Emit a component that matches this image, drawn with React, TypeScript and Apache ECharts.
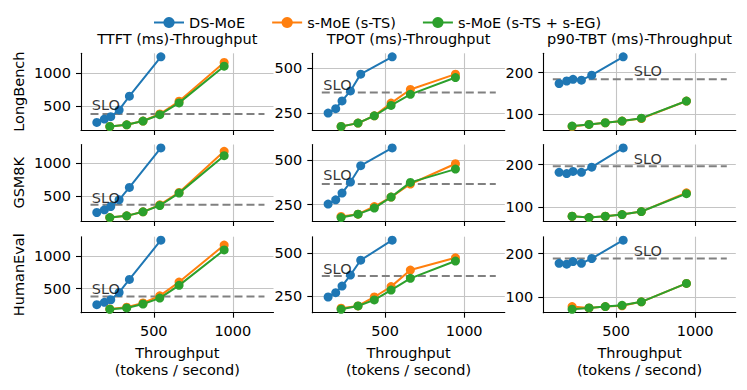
import React, { useEffect, useRef } from "react";
import * as echarts from "echarts";

// ---------- data ----------
const rowNames = ["LongBench", "GSM8K", "HumanEval"];
const colTitles = ["TTFT (ms)-Throughput", "TPOT (ms)-Throughput", "p90-TBT (ms)-Throughput"];
const seriesNames = ["DS-MoE", "s-MoE (s-TS)", "s-MoE (s-TS + s-EG)"];
const colors = ["#1f77b4", "#ff7f0e", "#2ca02c"];

// throughput (tokens / second)
const thrDS = [140, 188, 228, 281, 346, 545];
const thrS = [222, 329, 432, 538, 660, 945];

// TTFT (ms)
const ttftLongBenchDS = [258, 309, 344, 445, 652, 1242];
const ttftLongBenchTS = [197, 223, 279, 385, 576, 1158];
const ttftLongBenchEG = [197, 223, 279, 374, 551, 1101];
const ttftGSM8KDS = [260, 300, 350, 450, 635, 1225];
const ttftGSM8KTS = [185, 210, 270, 375, 560, 1175];
const ttftGSM8KEG = [185, 210, 270, 365, 550, 1110];
const ttftHumanEvalDS = [255, 291, 330, 441, 640, 1240];
const ttftHumanEvalTS = [190, 216, 281, 390, 600, 1165];
const ttftHumanEvalEG = [185, 205, 265, 355, 550, 1090];

// TPOT (ms)
const tpotLongBenchDS = [250, 275, 318, 374, 468, 565];
const tpotLongBenchTS = [175, 194, 235, 306, 382, 468];
const tpotLongBenchEG = [175, 194, 235, 293, 355, 449];
const tpotGSM8KDS = [254, 278, 316, 378, 470, 570];
const tpotGSM8KTS = [184, 197, 240, 293, 367, 481];
const tpotGSM8KEG = [178, 197, 231, 293, 376, 451];
const tpotHumanEvalDS = [244, 269, 307, 371, 457, 573];
const tpotHumanEvalTS = [179, 192, 244, 304, 400, 471];
const tpotHumanEvalEG = [173, 192, 227, 284, 352, 452];

// p90-TBT (ms)
const tbtLongBenchDS = [174, 180, 184, 182, 194, 238];
const tbtLongBenchTS = [71, 76, 80, 84, 90, 132];
const tbtLongBenchEG = [72, 76, 80, 84, 91, 132];
const tbtGSM8KDS = [182, 179, 184, 182, 194, 239];
const tbtGSM8KTS = [79, 76, 79, 83, 90, 134];
const tbtGSM8KEG = [79, 76, 79, 83, 90, 132];
const tbtHumanEvalDS = [178, 176, 182, 178, 189, 231];
const tbtHumanEvalTS = [79, 76, 79, 81, 90, 132];
const tbtHumanEvalEG = [73, 76, 79, 82, 90, 132];

// SLO levels per row
const sloTTFT = [385, 375, 381];
const sloTPOT = [365, 367, 365];
const sloTBT = [184, 196, 189];
const sloSpan = [100, 1200];
// SLO label anchor (x per column, y per row) in data units
const sloLabelX = [108, 110, 612];
const sloLabelTTFT = [515, 475, 490];
const sloLabelTPOT = [408, 415, 408];
const sloLabelTBT = [204, 213, 206];

const xTicks = [500, 1000];
const yTicksTTFT = [500, 1000];
const yTicksTPOT = [250, 500];
const yTicksTBT = [100, 200];
const xRange = [40, 1257];

// ---------- layout ----------
const FONT = "DejaVu Sans";
const FS = 14.5;
const colLeft = [81, 312.3, 543.3];
const plotW = 192.5;
const rowTop = [53.3, 144.5, 236.7];
const plotH = [76.7, 76.5, 76];

const panelData = [
  [
    [ttftLongBenchDS, ttftLongBenchTS, ttftLongBenchEG],
    [tpotLongBenchDS, tpotLongBenchTS, tpotLongBenchEG],
    [tbtLongBenchDS, tbtLongBenchTS, tbtLongBenchEG],
  ],
  [
    [ttftGSM8KDS, ttftGSM8KTS, ttftGSM8KEG],
    [tpotGSM8KDS, tpotGSM8KTS, tpotGSM8KEG],
    [tbtGSM8KDS, tbtGSM8KTS, tbtGSM8KEG],
  ],
  [
    [ttftHumanEvalDS, ttftHumanEvalTS, ttftHumanEvalEG],
    [tpotHumanEvalDS, tpotHumanEvalTS, tpotHumanEvalEG],
    [tbtHumanEvalDS, tbtHumanEvalTS, tbtHumanEvalEG],
  ],
];
const sloByCol = [sloTTFT, sloTPOT, sloTBT];
const sloLabelByCol = [sloLabelTTFT, sloLabelTPOT, sloLabelTBT];
const yTicksByCol = [yTicksTTFT, yTicksTPOT, yTicksTBT];

function buildOption() {
  const grid: any[] = [];
  const xAxis: any[] = [];
  const yAxis: any[] = [];
  const series: any[] = [];
  const graphic: any[] = [];

  for (let r = 0; r < 3; r++) {
    for (let c = 0; c < 3; c++) {
      const gi = r * 3 + c;
      const [ds, ts, eg] = panelData[r][c];
      const slo = sloByCol[c][r];
      const all = [...ds, ...ts, ...eg, slo];
      const mn = Math.min(...all);
      const mx = Math.max(...all);
      const pad = (mx - mn) * 0.05;

      grid.push({ left: colLeft[c], top: rowTop[r], width: plotW, height: plotH[r] });
      xAxis.push({
        type: "value",
        gridIndex: gi,
        min: xRange[0],
        max: xRange[1],
        axisLine: { show: true, onZero: false, lineStyle: { color: "#000", width: 1.1 } },
        axisTick: { show: true, length: 5, customValues: xTicks, lineStyle: { color: "#000", width: 1.1 } },
        axisLabel: {
          show: r === 2,
          customValues: xTicks,
          formatter: (v: number) => String(v),
          color: "#000",
          fontFamily: FONT,
          fontSize: FS,
          margin: 11,
        },
        splitLine: { show: true, lineStyle: { color: "#c4c4c4", width: 1.1 } },
      });
      yAxis.push({
        type: "value",
        gridIndex: gi,
        min: mn - pad,
        max: mx + pad,
        axisLine: { show: true, onZero: false, lineStyle: { color: "#000", width: 1.1 } },
        axisTick: { show: true, length: 5, customValues: yTicksByCol[c], lineStyle: { color: "#000", width: 1.1 } },
        axisLabel: {
          show: true,
          customValues: yTicksByCol[c],
          formatter: (v: number) => String(v),
          color: "#000",
          fontFamily: FONT,
          fontSize: FS,
          margin: 10,
        },
        splitLine: { show: true, lineStyle: { color: "#c4c4c4", width: 1.1 } },
      });

      // SLO dashed line
      series.push({
        type: "line",
        name: "SLO",
        xAxisIndex: gi,
        yAxisIndex: gi,
        data: sloSpan.map((x) => [x, slo]),
        showSymbol: false,
        silent: true,
        z: 1,
        lineStyle: { color: "#808080", width: 2, type: [8, 4] },
      });
      // SLO text
      series.push({
        type: "scatter",
        name: "SLO-label",
        xAxisIndex: gi,
        yAxisIndex: gi,
        data: [[sloLabelX[c], sloLabelByCol[c][r]]],
        symbolSize: 0,
        silent: true,
        z: 5,
        label: {
          show: true,
          position: "right",
          distance: 0,
          formatter: "SLO",
          color: "#000",
          fontFamily: FONT,
          fontSize: FS,
        },
      });

      const sets = [
        [thrDS, ds],
        [thrS, ts],
        [thrS, eg],
      ];
      sets.forEach(([xs, ys], k) => {
        series.push({
          type: "line",
          name: seriesNames[k],
          xAxisIndex: gi,
          yAxisIndex: gi,
          data: xs.map((x: number, i: number) => [x, ys[i]]),
          symbol: "circle",
          symbolSize: 9,
          showSymbol: true,
          z: 2 + k,
          itemStyle: { color: colors[k] },
          lineStyle: { color: colors[k], width: 2 },
        });
      });
    }
  }

  // column titles and x-axis names
  for (let c = 0; c < 3; c++) {
    const cx = colLeft[c] + plotW / 2;
    graphic.push({
      type: "text",
      x: cx,
      y: 39,
      style: { text: colTitles[c], align: "center", verticalAlign: "middle", font: `${FS}px "${FONT}"`, fill: "#000" },
    });
    graphic.push({
      type: "text",
      x: cx,
      y: 353,
      style: { text: "Throughput", align: "center", verticalAlign: "middle", font: `${FS}px "${FONT}"`, fill: "#000" },
    });
    graphic.push({
      type: "text",
      x: cx,
      y: 370,
      style: { text: "(tokens / second)", align: "center", verticalAlign: "middle", font: `${FS}px "${FONT}"`, fill: "#000" },
    });
  }
  // row labels
  for (let r = 0; r < 3; r++) {
    graphic.push({
      type: "text",
      x: 18.5,
      y: rowTop[r] + plotH[r] / 2,
      rotation: Math.PI / 2,
      style: { text: rowNames[r], align: "center", verticalAlign: "middle", font: `${FS}px "${FONT}"`, fill: "#000" },
    });
  }

  return {
    animation: false,
    backgroundColor: "#fff",
    legend: {
      data: seriesNames,
      left: 148,
      top: 10,
      itemWidth: 30,
      itemHeight: 14,
      itemGap: 26,
      textStyle: { fontFamily: FONT, fontSize: FS, color: "#000" },
    },
    grid,
    xAxis,
    yAxis,
    series,
    graphic,
  };
}

export default function App() {
  const ref = useRef<HTMLDivElement>(null);
  useEffect(() => {
    if (!ref.current) return;
    const chart = echarts.init(ref.current, undefined, { renderer: "svg" });
    chart.setOption(buildOption() as any);
    return () => chart.dispose();
  }, []);
  return (
    <div
      ref={ref}
      style={{ position: "absolute", left: 0, top: 0, width: 747, height: 390 }}
    />
  );
}
